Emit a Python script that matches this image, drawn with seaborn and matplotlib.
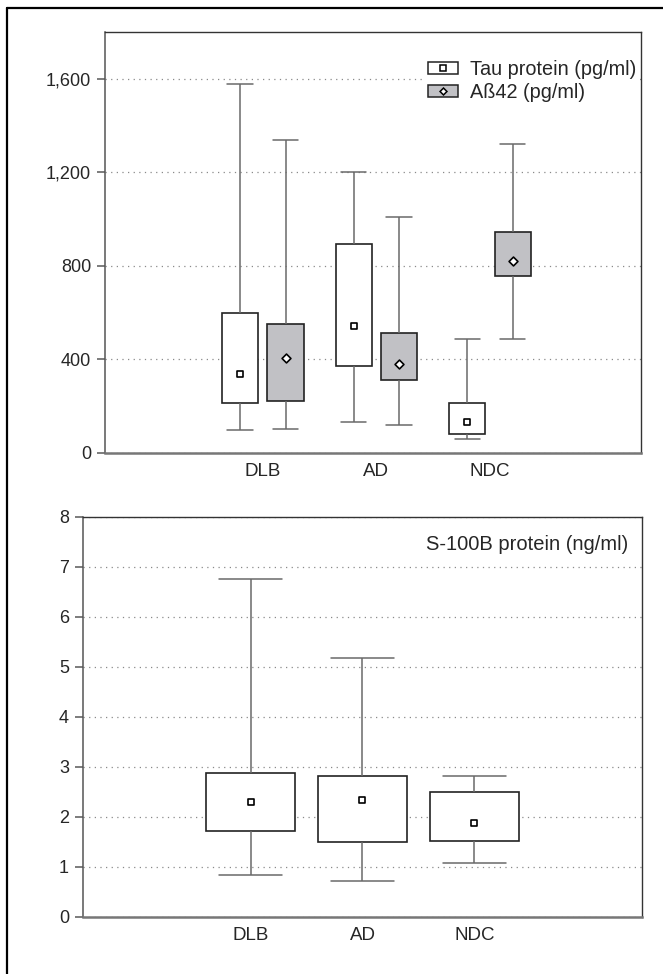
import pandas as pd
import matplotlib.pyplot as plt
import seaborn as sns
from matplotlib.patches import Patch
from matplotlib.lines import Line2D
from matplotlib.ticker import StrMethodFormatter

# five-number summaries: whisker min, Q1, marker, Q3, whisker max
groups = ['DLB', 'AD', 'NDC']
tau_label = 'Tau protein (pg/ml)'
ab_label = 'Aß42 (pg/ml)'
tau_min = [96, 131, 58]
tau_q1 = [214, 371, 80]
tau_mid = [337, 543, 133]
tau_q3 = [597, 893, 214]
tau_max = [1580, 1200, 486]
ab_min = [100, 119, 486]
ab_q1 = [223, 311, 757]
ab_mid = [404, 380, 820]
ab_q3 = [551, 512, 947]
ab_max = [1338, 1010, 1324]

s100_label = 'S-100B protein (ng/ml)'
s100_min = [0.83, 0.71, 1.08]
s100_q1 = [1.72, 1.49, 1.52]
s100_mid = [2.29, 2.33, 1.87]
s100_q3 = [2.87, 2.81, 2.49]
s100_max = [6.75, 5.17, 2.81]


def long_rows(label, mins, q1s, mids, q3s, maxs):
    rows = []
    for g, a, b, c, d, e in zip(groups, mins, q1s, mids, q3s, maxs):
        for v in (a, b, c, d, e):
            rows.append({'group': g, 'measure': label, 'value': v})
    return rows


top = pd.DataFrame(long_rows(tau_label, tau_min, tau_q1, tau_mid, tau_q3, tau_max)
                   + long_rows(ab_label, ab_min, ab_q1, ab_mid, ab_q3, ab_max))
top_marks = pd.DataFrame({'group': groups * 2,
                          'measure': [tau_label] * 3 + [ab_label] * 3,
                          'value': tau_mid + ab_mid})
bottom = pd.DataFrame(long_rows(s100_label, s100_min, s100_q1, s100_mid, s100_q3, s100_max))
bottom_marks = pd.DataFrame({'group': groups, 'value': s100_mid})

sns.set_style('white')
plt.rcParams['font.family'] = ['Liberation Sans', 'DejaVu Sans']

grey_fill = '#c1c1c5'
edge = '#222222'
wcol = '#6a6a6a'
hue_order = [tau_label, ab_label]

fig = plt.figure(figsize=(6.63, 9.74), dpi=100)
ax1 = fig.add_axes([0.1584, 0.5352, 0.8084, 0.4316])
ax2 = fig.add_axes([0.1252, 0.0588, 0.8431, 0.4107])

box_kw = dict(whis=(0, 100), showfliers=False, saturation=1, linecolor=edge, linewidth=1.2,
              medianprops={'visible': False},
              whiskerprops={'color': wcol, 'linewidth': 1.1},
              capprops={'color': wcol, 'linewidth': 1.1})

sns.boxplot(data=top, x='group', y='value', hue='measure', order=groups, hue_order=hue_order,
            palette={tau_label: 'white', ab_label: grey_fill}, width=0.8, gap=0.2,
            legend=False, ax=ax1, **box_kw)
for lab, mk, sz in [(tau_label, 's', 5), (ab_label, 'D', 4.5)]:
    sns.stripplot(data=top_marks[top_marks['measure'] == lab], x='group', y='value',
                  hue='measure', order=groups, hue_order=hue_order, dodge=True, jitter=False,
                  palette={tau_label: 'white', ab_label: 'white'}, marker=mk, size=sz,
                  edgecolor='black', linewidth=1.2, legend=False, zorder=5, ax=ax1)

sns.boxplot(data=bottom, x='group', y='value', order=groups, color='white', width=0.8,
            ax=ax2, **box_kw)
sns.stripplot(data=bottom_marks, x='group', y='value', order=groups, jitter=False,
              color='white', marker='s', size=5, edgecolor='black', linewidth=1.2,
              zorder=5, ax=ax2)

# widen the whisker caps a bit
for ax in (ax1, ax2):
    for cont in ax.containers:
        for cap in getattr(cont, 'caps', []):
            x = cap.get_xdata()
            c = (x[0] + x[1]) / 2
            h = (x[1] - x[0]) / 2 * 1.4
            cap.set_xdata([c - h, c + h])

ax1.set_ylim(0, 1800)
ax1.set_yticks([0, 400, 800, 1200, 1600])
ax1.yaxis.set_major_formatter(StrMethodFormatter('{x:,.0f}'))
ax1.set_xlim(-1.39, 3.33)
ax2.set_ylim(0, 8)
ax2.set_yticks(range(0, 9))
ax2.set_xlim(-1.5, 3.5)

for ax in (ax1, ax2):
    ax.set_xlabel('')
    ax.set_ylabel('')
    ax.yaxis.grid(True, linestyle=(0, (1, 3.5)), color='#8a8a8a', linewidth=0.9)
    ax.set_axisbelow(True)
    ax.tick_params(axis='y', left=True, length=6, width=1.2, color='#666666',
                   labelsize=13, pad=4)
    ax.tick_params(axis='x', bottom=False, labelsize=13.5, pad=4)
    for side in ('top', 'right'):
        ax.spines[side].set_color('#333333')
        ax.spines[side].set_linewidth(1.0)
    ax.spines['left'].set_color('#555555')
    ax.spines['left'].set_linewidth(1.1)
    ax.spines['bottom'].set_color('#777777')
    ax.spines['bottom'].set_linewidth(1.8)

handles = [
    (Patch(facecolor='white', edgecolor=edge, linewidth=1.1),
     Line2D([], [], marker='s', linestyle='none', markersize=4, markerfacecolor='white',
            markeredgecolor='black', markeredgewidth=1.1)),
    (Patch(facecolor=grey_fill, edgecolor=edge, linewidth=1.1),
     Line2D([], [], marker='D', linestyle='none', markersize=3.5, markerfacecolor='white',
            markeredgecolor='black', markeredgewidth=1.1)),
]
leg = ax1.legend(handles, hue_order, loc='upper right', bbox_to_anchor=(0.998, 0.944),
                 fontsize=14.3, frameon=True, framealpha=1, edgecolor='none',
                 facecolor='white', handlelength=1.5, handleheight=0.55,
                 handletextpad=0.6, labelspacing=0.2, borderpad=0.2, borderaxespad=0.0)

ax2.text(0.975, 0.93, s100_label, transform=ax2.transAxes, ha='right', va='center',
         fontsize=14.5)

# outer frame (left and top edges)
fig.add_artist(Line2D([7 / 663, 7 / 663], [0, 1 - 8 / 974], transform=fig.transFigure,
                      color='black', linewidth=1.6))
fig.add_artist(Line2D([7 / 663, 1], [1 - 8 / 974, 1 - 8 / 974], transform=fig.transFigure,
                      color='black', linewidth=1.6))

fig.savefig('out.png', dpi=100)
